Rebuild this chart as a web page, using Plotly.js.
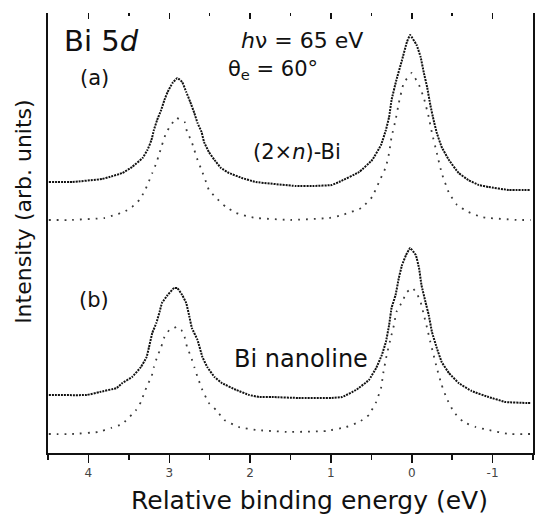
<!DOCTYPE html>
<html>
<head>
<meta charset="utf-8">
<script src="https://cdn.plot.ly/plotly-3.0.1.min.js"></script>
<style>html,body{margin:0;padding:0;background:#fff;}#chart{width:535px;height:514px;}</style>
</head>
<body>
<div id="chart"></div>
<script>
// Relative binding energy (eV) and intensity (arb. units)
const aDataE = [4.49,4.20,3.83,3.74,3.58,3.46,3.33,3.27,3.22,3.19,3.15,3.10,3.06,3.02,2.96,2.90,2.84,2.79,2.74,2.69,2.65,2.60,2.57,2.51,2.44,2.36,2.26,2.10,1.93,1.43,1.21,0.99,0.90,0.65,0.49,0.38,0.32,0.28,0.25,0.19,0.12,0.06,0.02,-0.06,-0.11,-0.15,-0.19,-0.23,-0.27,-0.31,-0.37,-0.46,-0.58,-0.70,-0.83,-0.95,-1.20,-1.47];
const aDataI = [271,271,274,276,280,286,295,303,313,323,333,343,353,361,370,375,371,361,351,340,330,321,311,301,293,285,280,275,271,267,267,268,271,281,293,308,323,336,353,373,393,411,418,408,396,380,366,348,333,320,306,293,280,273,268,266,263,263];

const aCompE = [4.49,4.23,3.80,3.68,3.56,3.46,3.37,3.31,3.26,3.21,3.16,3.12,3.09,3.04,2.98,2.91,2.81,2.78,2.73,2.69,2.65,2.60,2.54,2.51,2.43,2.30,2.17,2.05,1.93,1.50,1.02,0.86,0.62,0.49,0.41,0.32,0.28,0.25,0.20,0.16,0.10,0.00,-0.09,-0.15,-0.21,-0.25,-0.31,-0.37,-0.46,-0.56,-0.70,-0.86,-0.95,-1.32,-1.47];
const aCompI = [233,233,235,238,241,246,253,261,270,280,290,300,308,320,328,335,331,321,313,303,293,283,270,263,256,246,240,237,235,233,235,238,245,256,270,286,300,316,333,350,370,380,368,355,336,320,300,280,260,248,241,236,235,233,233];

const bDataE = [4.49,4.02,3.86,3.65,3.58,3.46,3.35,3.28,3.25,3.21,3.16,3.12,3.09,3.02,2.94,2.90,2.84,2.79,2.75,2.72,2.65,2.59,2.53,2.44,2.35,2.17,2.01,1.89,1.73,1.40,0.99,0.86,0.69,0.53,0.44,0.37,0.32,0.28,0.25,0.20,0.16,0.12,0.07,0.02,-0.05,-0.09,-0.12,-0.17,-0.21,-0.25,-0.31,-0.37,-0.46,-0.58,-0.74,-0.95,-1.16,-1.41,-1.47];
const bDataI = [58,58,61,65,70,76,86,96,106,120,130,141,150,158,165,165,158,150,136,125,113,96,86,76,70,63,58,56,56,55,55,56,63,73,85,98,111,128,145,158,175,188,198,205,198,185,168,151,138,121,105,91,80,70,62,56,51,50,50];

const bCompE = [4.49,4.20,3.88,3.72,3.58,3.41,3.35,3.31,3.27,3.22,3.19,3.15,3.10,3.06,3.00,2.91,2.85,2.81,2.78,2.73,2.69,2.65,2.59,2.51,2.42,2.32,2.14,1.93,1.52,1.06,0.81,0.65,0.53,0.44,0.38,0.35,0.31,0.26,0.22,0.19,0.12,0.06,-0.01,-0.06,-0.11,-0.15,-0.19,-0.23,-0.27,-0.31,-0.37,-0.43,-0.52,-0.64,-0.79,-0.95,-1.20,-1.47];
const bCompI = [19,19,21,25,29,43,51,60,68,76,86,96,106,116,123,126,123,116,106,96,86,76,63,50,43,33,26,23,21,22,26,31,38,51,65,81,98,115,128,141,151,161,165,160,151,138,125,111,98,85,68,55,41,31,26,23,19,19];

const tickVals = [4,3,2,1,0,-1];
const tickText = ["4","3","2","1","0","-1"];

const FONT = "DejaVu Sans, Arial, sans-serif";

const dataStyle = {mode:'lines', line:{color:'#111', width:2, dash:'2px,1px', shape:'spline', smoothing:0.25}, hoverinfo:'skip', showlegend:false};
const compStyle = {mode:'lines', line:{color:'#3a3a3a', width:1.8, dash:'1.8px,6px', shape:'spline', smoothing:0.25}, hoverinfo:'skip', showlegend:false};

const traces = [
  Object.assign({x:aDataE, y:aDataI}, JSON.parse(JSON.stringify(dataStyle))),
  Object.assign({x:aCompE, y:aCompI}, JSON.parse(JSON.stringify(compStyle))),
  Object.assign({x:bDataE, y:bDataI}, JSON.parse(JSON.stringify(dataStyle))),
  Object.assign({x:bCompE, y:bCompI}, JSON.parse(JSON.stringify(compStyle))),
  {x:[0], y:[null], xaxis:'x2', mode:'lines', hoverinfo:'skip', showlegend:false}
];

const ann = (text, x, y, size, extra) => Object.assign({
  text: text, x: x, y: y, xref: 'x', yref: 'y', showarrow: false,
  xanchor: 'center', yanchor: 'middle', font: {family: FONT, size: size, color: '#111'}
}, extra || {});

const layout = {
  width: 535, height: 514,
  margin: {l: 48, r: 2, t: 13, b: 61},
  paper_bgcolor: '#fff', plot_bgcolor: '#fff',
  showlegend: false,
  xaxis: {
    range: [4.5, -1.5], showgrid: false, zeroline: false,
    showline: true, linecolor: '#111', linewidth: 2,
    ticks: 'outside', ticklen: 8, tickwidth: 1.5, tickcolor: '#111',
    tickvals: tickVals, ticktext: tickText,
    tickfont: {family: FONT, size: 12, color: '#444'},
    minor: {dtick: 0.5, tick0: 0, ticks: 'outside', ticklen: 5, tickwidth: 1.5, tickcolor: '#111'}
  },
  xaxis2: {
    range: [4.5, -1.5], overlaying: 'x', side: 'top', anchor: 'y',
    showgrid: false, zeroline: false, showline: false, showticklabels: false,
    ticks: 'inside', ticklen: 6, tickwidth: 1.5, tickcolor: '#111', tickvals: tickVals,
    minor: {dtick: 0.5, tick0: 0, ticks: 'inside', ticklen: 3, tickwidth: 1.5, tickcolor: '#111'}
  },
  yaxis: {
    range: [0, 440], showgrid: false, zeroline: false,
    showline: true, mirror: true, linecolor: '#111', linewidth: 2,
    ticks: '', showticklabels: false
  },
  annotations: [
    ann('Bi 5<i>d</i>', 3.84, 412, 29),
    ann('(a)', 3.93, 375, 21),
    ann('(b)', 3.93, 153, 21),
    ann('<i>h</i>ν = 65 eV', 1.36, 413, 22),
    ann('θ<sub>e</sub> = 60°', 1.72, 383, 21),
    ann('(2×<i>n</i>)-Bi', 1.42, 301, 21),
    ann('Bi nanoline', 1.37, 94, 24),
    {text: 'Intensity (arb. units)', xref: 'paper', yref: 'paper', x: -0.0495, y: 0.548,
     textangle: -90, showarrow: false, xanchor: 'center', yanchor: 'middle',
     font: {family: FONT, size: 22, color: '#111'}},
    {text: 'Relative binding energy (eV)', xref: 'paper', yref: 'paper', x: 0.540, y: -0.107,
     showarrow: false, xanchor: 'center', yanchor: 'middle',
     font: {family: FONT, size: 25, color: '#111'}}
  ]
};

Plotly.newPlot('chart', traces, layout, {staticPlot: true, displayModeBar: false});
</script>
</body>
</html>
